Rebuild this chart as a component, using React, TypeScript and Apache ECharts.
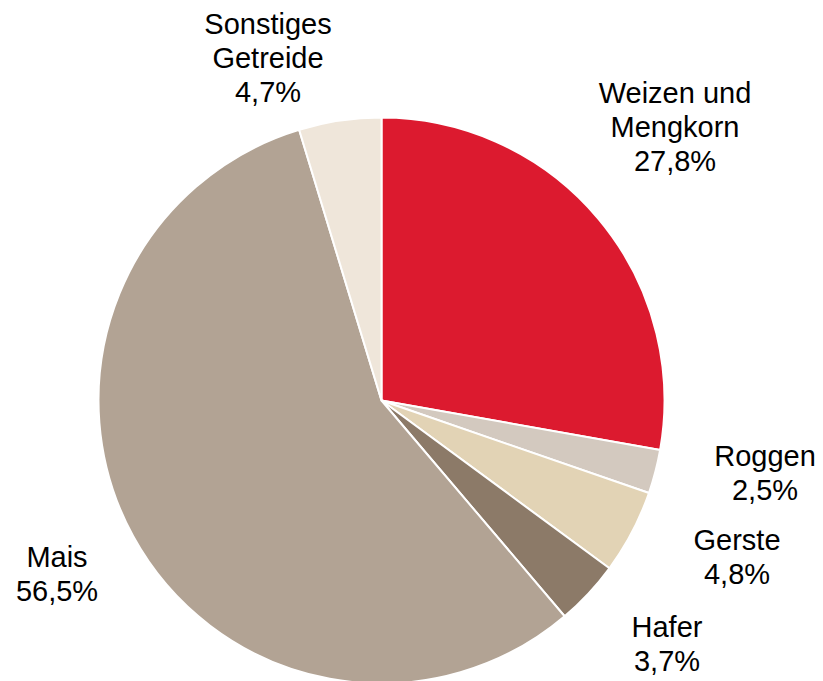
import React, { useEffect, useRef } from "react";
import * as echarts from "echarts";

const categories = [
  "Weizen und\nMengkorn",
  "Roggen",
  "Gerste",
  "Hafer",
  "Mais",
  "Sonstiges\nGetreide",
];
const shares = [27.8, 2.5, 4.8, 3.7, 56.5, 4.7];
const colors = ["#DC1A2F", "#D3C9BF", "#E2D3B5", "#8C7A68", "#B2A394", "#EFE6DA"];
// label centre positions (layout only)
const labelPos: [number, number][] = [
  [675, 127],
  [765, 473],
  [737, 557],
  [667, 644],
  [57, 574],
  [268, 58],
];

export default function App() {
  const ref = useRef<HTMLDivElement>(null);
  useEffect(() => {
    document.body.style.margin = "0";
    const chart = echarts.init(ref.current!, undefined, { renderer: "svg" });
    chart.setOption({
      animation: false,
      backgroundColor: "#ffffff",
      series: [
        {
          type: "pie",
          center: [381.5, 400.5],
          radius: 283,
          startAngle: 90,
          clockwise: true,
          data: categories.map((c, i) => ({
            name: c,
            value: shares[i],
            itemStyle: { color: colors[i] },
          })),
          itemStyle: { borderColor: "#ffffff", borderWidth: 2 },
          label: {
            show: true,
            position: "outside",
            overflow: "none",
            formatter: (p: any) =>
              p.name + "\n" + String(p.value.toFixed(1)).replace(".", ",") + "%",
            fontFamily: "'Liberation Sans', Arial, sans-serif",
            fontSize: 29,
            lineHeight: 34,
            color: "#000000",
            align: "center",
          },
          labelLine: { show: false },
          labelLayout: (params: any) => {
            const pos = labelPos[params.dataIndex];
            return { x: pos[0], y: pos[1], align: "center", verticalAlign: "middle" };
          },
          emphasis: { disabled: true },
        },
      ],
    });
    return () => chart.dispose();
  }, []);
  return (
    <div
      ref={ref}
      style={{ position: "absolute", left: 0, top: 0, width: 823, height: 681 }}
    />
  );
}
